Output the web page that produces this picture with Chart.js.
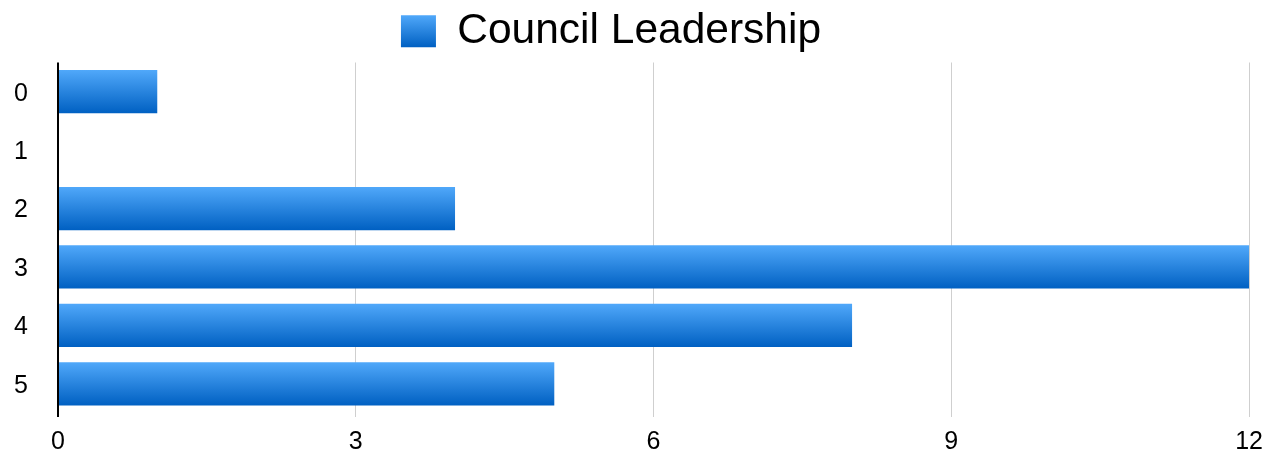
<!DOCTYPE html>
<html>
<head>
<meta charset="utf-8">
<script src="https://cdn.jsdelivr.net/npm/chart.js@4/dist/chart.umd.min.js"></script>
<style>
  html, body { margin: 0; padding: 0; background: #ffffff; }
</style>
</head>
<body>
<canvas id="chart" width="1273" height="458"></canvas>
<script>
const categories = ["0", "1", "2", "3", "4", "5"];
const councilLeadership = [1, 0, 4, 12, 8, 5];
const xTickValues = [0, 3, 6, 9, 12];

const TOP_BLUE = "#50a8fa";
const BOTTOM_BLUE = "#0060c2";
const BAR_PERCENT = 0.74;
const FONT = "'Liberation Sans', Arial, Helvetica, sans-serif";

function verticalGradient(ctx, top, bottom) {
    if (!isFinite(top) || !isFinite(bottom) || top === bottom) return BOTTOM_BLUE;
    const g = ctx.createLinearGradient(0, top, 0, bottom);
    g.addColorStop(0, TOP_BLUE);
    g.addColorStop(1, BOTTOM_BLUE);
    return g;
}

// each bar gets its own top-to-bottom gradient
function barFill(context) {
    const chart = context.chart;
    const yScale = chart.scales.y;
    if (!yScale || context.dataIndex === undefined) return BOTTOM_BLUE;
    const center = yScale.getPixelForValue(context.dataIndex);
    const half = (yScale.height / categories.length) * BAR_PERCENT / 2;
    return verticalGradient(chart.ctx, center - half, center + half);
}

// legend box uses the same gradient; legend sits a bit left of centre in the original
const legendTweaks = {
    id: "legendTweaks",
    afterLayout(chart) {
        const legend = chart.legend;
        if (!legend) return;
        legend.left -= 15;
        legend.right -= 15;
    },
    beforeDraw(chart) {
        const legend = chart.legend;
        if (!legend || !legend.legendHitBoxes || !legend.legendHitBoxes.length) return;
        const labels = legend.options.labels;
        const fontSize = labels.font && labels.font.size ? labels.font.size : 42;
        const hit = legend.legendHitBoxes[0];
        const top = hit.top + Math.max((fontSize - labels.boxHeight) / 2, 0);
        legend.legendItems[0].fillStyle = verticalGradient(chart.ctx, top, top + labels.boxHeight);
    },
};

new Chart(document.getElementById("chart"), {
    type: "bar",
    data: {
        labels: categories,
        datasets: [
            {
                label: "Council Leadership",
                data: councilLeadership,
                backgroundColor: barFill,
                borderWidth: 0,
                barPercentage: BAR_PERCENT,
                categoryPercentage: 1,
            },
        ],
    },
    options: {
        indexAxis: "y",
        responsive: false,
        animation: false,
        devicePixelRatio: 1,
        layout: { padding: { left: 0, right: 21, top: 0, bottom: 0 } },
        scales: {
            x: {
                type: "linear",
                min: 0,
                max: 12,
                afterBuildTicks: (scale) => {
                    scale.ticks = xTickValues.map((v) => ({ value: v }));
                },
                afterFit: (scale) => {
                    scale.height = 44;
                },
                grid: {
                    color: (c) => (c.tick && c.tick.value === 0 ? "#000000" : "#cfcfcf"),
                    lineWidth: (c) => (c.tick && c.tick.value === 0 ? 2 : 1),
                    drawTicks: true,
                    tickLength: 4,
                    tickColor: (c) => (c.tick && c.tick.value === 0 ? "#000000" : "#cfcfcf"),
                },
                border: { display: false },
                ticks: {
                    color: "#000000",
                    padding: 10,
                    font: { size: 25, family: FONT },
                },
            },
            y: {
                grid: { display: false, drawTicks: false },
                border: { display: false },
                afterFit: (scale) => {
                    scale.width = 58;
                },
                ticks: {
                    color: "#000000",
                    padding: 30,
                    labelOffset: 2,
                    font: { size: 25, family: FONT },
                },
            },
        },
        plugins: {
            legend: {
                display: true,
                position: "top",
                labels: {
                    boxWidth: 35,
                    boxHeight: 32,
                    padding: 10,
                    color: "#000000",
                    font: { size: 42.5, family: FONT },
                },
            },
            tooltip: { enabled: false },
        },
    },
    plugins: [legendTweaks],
});
</script>
</body>
</html>
